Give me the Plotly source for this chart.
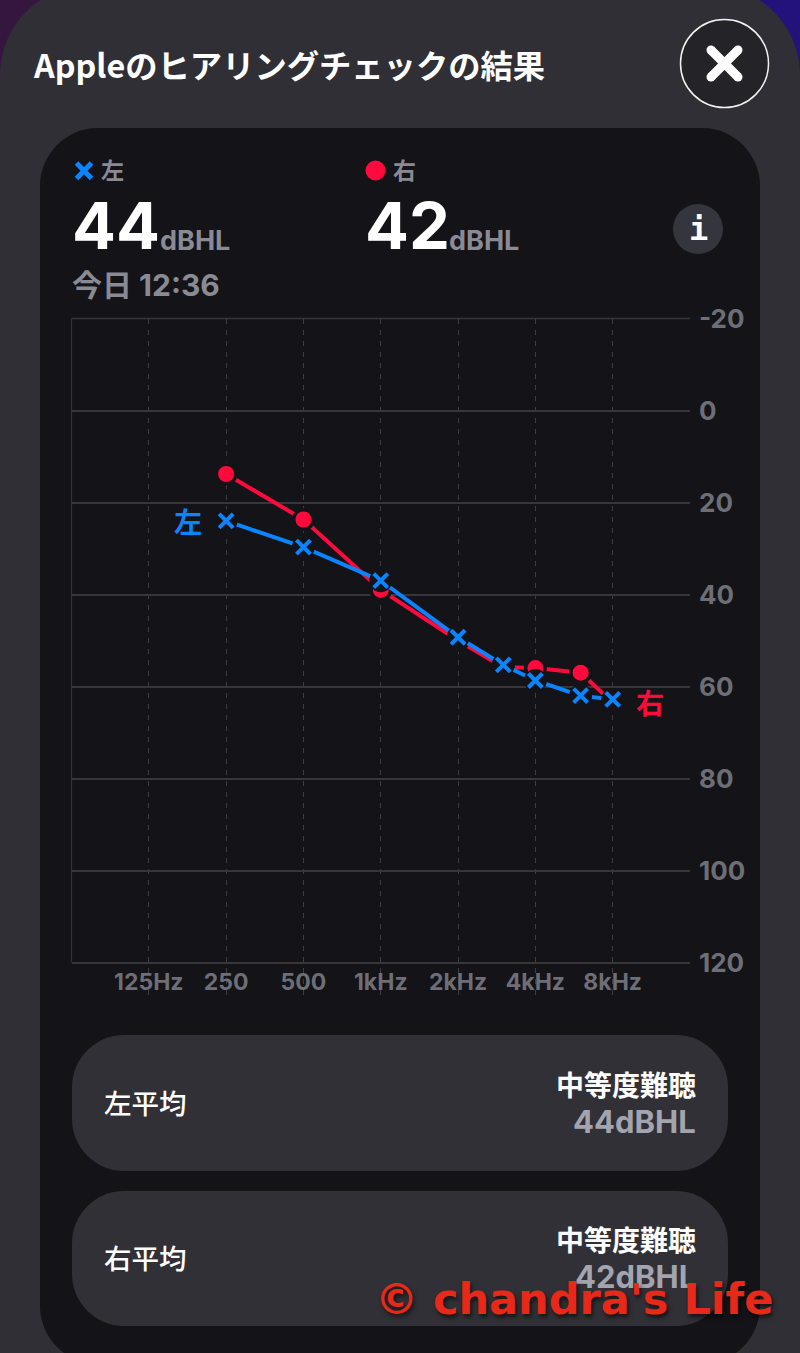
import math
import plotly.graph_objects as go

W, H = 800, 1353

# Audiogram readings, in dBHL per test frequency
freq_hz = [250, 500, 1000, 2000, 3000, 4000, 6000, 8000]
left_db = [24, 29.7, 37, 49.3, 55.3, 58.7, 62, 62.8]
right_db = [13.8, 23.7, 39, 50, 55.8, 56, 57, 63.5]

freq_ticks = [62.5, 125, 250, 500, 1000, 2000, 4000, 8000, 16000]
freq_labels = ["", "125Hz", "250", "500", "1kHz", "2kHz", "4kHz", "8kHz", ""]
db_ticks = [-20, 0, 20, 40, 60, 80, 100, 120]
db_labels = ["-20", "0", "20", "40", "60", "80", "100", "120"]

left_name, right_name = "左", "右"
left_avg, right_avg = 44, 42
hearing_class = "中等度難聴"
unit = "dBHL"

BLUE = "#0a84ff"
RED = "#ff0a3c"
CARD = "#131318"
SHEET = "#2f2f35"
PILL = "#303036"
GREY = "#8a8a94"
TICK = "#6e6e77"
FONT = "Inter, 'Noto Sans CJK JP', sans-serif"
JP = "'Noto Sans CJK JP', sans-serif"


def px(x):
    return x / W


def py(y):
    return 1 - y / H


def round_rect(x0, y0, x1, y1, r, fill):
    k = 0.45 * r
    p = [
        f"M{px(x0 + r)},{py(y0)}",
        f"L{px(x1 - r)},{py(y0)}",
        f"C{px(x1 - k)},{py(y0)} {px(x1)},{py(y0 + k)} {px(x1)},{py(y0 + r)}",
        f"L{px(x1)},{py(y1 - r)}",
        f"C{px(x1)},{py(y1 - k)} {px(x1 - k)},{py(y1)} {px(x1 - r)},{py(y1)}",
        f"L{px(x0 + r)},{py(y1)}",
        f"C{px(x0 + k)},{py(y1)} {px(x0)},{py(y1 - k)} {px(x0)},{py(y1 - r)}",
        f"L{px(x0)},{py(y0 + r)}",
        f"C{px(x0)},{py(y0 + k)} {px(x0 + k)},{py(y0)} {px(x0 + r)},{py(y0)}",
        "Z",
    ]
    return dict(type="path", xref="paper", yref="paper", path=" ".join(p),
                fillcolor=fill, line=dict(width=0), layer="below")


def rect(x0, y0, x1, y1, fill):
    return dict(type="rect", xref="paper", yref="paper", x0=px(x0), x1=px(x1),
                y0=py(y1), y1=py(y0), fillcolor=fill, line=dict(width=0), layer="below")


def circle(cx, cy, r, fill, line=None, layer="below"):
    return dict(type="circle", xref="paper", yref="paper", x0=px(cx - r), x1=px(cx + r),
                y0=py(cy + r), y1=py(cy - r), fillcolor=fill,
                line=line or dict(width=0), layer=layer)


def seg(x0, y0, x1, y1, color, width, dash="solid", layer="below"):
    return dict(type="line", xref="paper", yref="paper", x0=px(x0), x1=px(x1),
                y0=py(y0), y1=py(y1), line=dict(color=color, width=width, dash=dash), layer=layer)


def label(x, y, text, size, color, anchor="left", weight=700, family=FONT, **kw):
    # The box round an annotation adds 2 px on each side; cancel it so x is the ink edge
    shift = {"left": -2, "right": 2, "center": 0}[anchor]
    return dict(xref="paper", yref="paper", x=px(x), y=py(y), text=text, showarrow=False,
                xanchor=anchor, yanchor="middle", align=anchor, xshift=shift,
                font=dict(size=size, color=color, weight=weight, family=family, **kw))


shapes = [
    rect(0, 0, 400, 100, "#35163f"),
    rect(400, 0, 800, 100, "#23127a"),
    round_rect(0, -15, 800, 1500, 90, SHEET),
    round_rect(40, 128, 760, 1364, 58, CARD),
    round_rect(72, 1035, 728, 1171, 52, PILL),
    round_rect(72, 1191, 728, 1326, 52, PILL),
    # close button
    circle(724.5, 63.5, 44, "#232328", dict(color="#f2f2f2", width=1.5)),
    seg(711, 50, 738, 77, "#ffffff", 9),
    seg(738, 50, 711, 77, "#ffffff", 9),
    circle(711, 50, 4.5, "#ffffff"),
    circle(738, 50, 4.5, "#ffffff"),
    circle(711, 77, 4.5, "#ffffff"),
    circle(738, 77, 4.5, "#ffffff"),
    # info button
    circle(698, 229, 25, "#35353d"),
    # legend glyphs
    seg(76.5, 163, 91.5, 178.5, BLUE, 5),
    seg(91.5, 163, 76.5, 178.5, BLUE, 5),
    circle(375.5, 170.5, 10, RED),
    # solid left and top edges of the grid
    seg(71.5, 318.5, 71.5, 962.5, "#323238", 1.2),
    seg(71.5, 318.5, 690, 318.5, "#36363b", 1.5),
]

annotations = [
    label(33, 64, "Appleのヒアリングチェックの結果", 32.3, "#ffffff", family=JP),
    label(101, 169.5, left_name, 23, GREY, family=JP),
    label(393, 169.5, right_name, 23, GREY, family=JP),
    label(72, 226, str(left_avg), 65, "#ffffff"),
    label(160, 241, unit, 27, GREY),
    label(365, 226, str(right_avg), 65, "#ffffff"),
    label(449, 241, unit, 27, GREY),
    label(72, 285, "今日 12:36", 30, GREY),
    label(698, 229, "i", 32, "#ffffff", anchor="center", family="'DejaVu Sans Mono'"),
    label(188, 521, left_name, 28, BLUE, anchor="center", family=JP),
    label(650, 702, right_name, 28, RED, anchor="center", family=JP),
    label(104, 1102, "左平均", 27.5, "#ffffff", weight=500, family=JP),
    label(696, 1084, hearing_class, 28, "#ffffff", anchor="right", family=JP),
    label(696, 1121, f"{left_avg}{unit}", 31, "#a4a4ae", anchor="right"),
    label(104, 1257, "右平均", 27.5, "#ffffff", weight=500, family=JP),
    label(696, 1239, hearing_class, 28, "#ffffff", anchor="right", family=JP),
    label(696, 1276, f"{right_avg}{unit}", 31, "#a4a4ae", anchor="right"),
    label(375, 1299, "© chandra's Life", 43, "#e8291a", family="'DejaVu Sans'",
          shadow="2px 3px 4px rgba(0,0,0,0.6)"),
]

fig = go.Figure()


def add_ear(x, y, color, symbol, size, halo, line_width=None):
    # Each ear: the line, a card-coloured halo that opens a gap round the marker, then the marker
    fig.add_trace(go.Scatter(x=x, y=y, mode="lines", line=dict(color=color, width=4), hoverinfo="skip"))
    fig.add_trace(go.Scatter(x=x, y=y, mode="markers", hoverinfo="skip",
                             marker=dict(size=halo, color=CARD, symbol="circle")))
    marker = dict(size=size, symbol=symbol, color=color)
    marker["line"] = dict(width=line_width or 0, color=color)
    fig.add_trace(go.Scatter(x=x, y=y, mode="markers", name="", marker=marker))


add_ear(freq_hz, right_db, RED, "circle", 16, 23)
add_ear(freq_hz, left_db, BLUE, "x-thin", 14, 23, line_width=4)

# 4.6 px per dB: the plot runs 36 px below the 120 line so the dashes reach the frequency labels
y_bottom = 120 + (998 - 962.5) / 4.6

fig.update_layout(
    width=W, height=H, autosize=False,
    margin=dict(l=0, r=0, t=0, b=0, autoexpand=False),
    paper_bgcolor=SHEET, plot_bgcolor="rgba(0,0,0,0)",
    showlegend=False, shapes=shapes, annotations=annotations,
    font=dict(family=FONT),
    xaxis=dict(
        type="log", domain=[px(71.5), px(690)],
        range=[math.log10(62.5), math.log10(16000)],
        tickmode="array", tickvals=freq_ticks, ticktext=freq_labels,
        showgrid=True, gridcolor="#3d3d43", gridwidth=1.4, griddash="5px,6px",
        ticks="", zeroline=False, showline=False,
        ticklabelposition="inside",
        tickfont=dict(size=23, color=TICK, weight=700, family=FONT),
    ),
    yaxis=dict(
        domain=[py(998), py(318.5)], range=[y_bottom, -20],
        side="right", tickmode="array", tickvals=db_ticks, ticktext=db_labels,
        showgrid=True, gridcolor="#36363b", gridwidth=1.5,
        ticks="", zeroline=False, showline=False, ticklabelstandoff=8,
        tickfont=dict(size=26, color=TICK, weight=700, family=FONT),
    ),
)

fig.write_html("out.html", config=dict(displayModeBar=False))
